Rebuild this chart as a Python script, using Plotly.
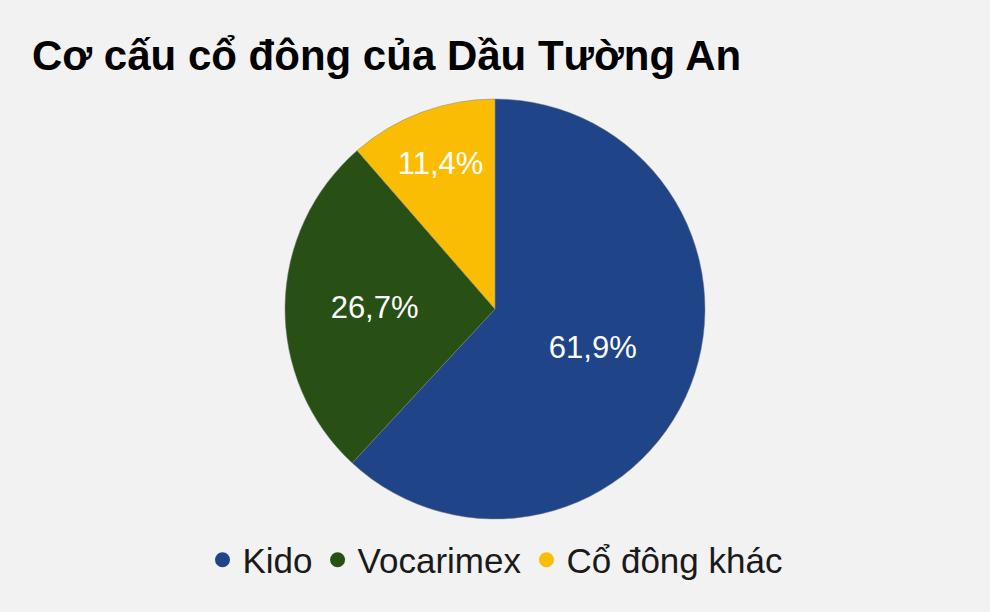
import plotly.graph_objects as go

# Shareholder structure data
labels = ["Kido", "Vocarimex", "Cổ đông khác"]
values = [61.9, 26.7, 11.4]
colors = ["#1f4488", "#284f14", "#fbbc04"]

fig = go.Figure()

fig.add_trace(go.Pie(
    labels=labels,
    values=values,
    marker=dict(colors=colors, line=dict(color="#7f7f7f", width=0.5)),
    sort=False,
    direction="clockwise",
    rotation=0,
    texttemplate="%{value:.1f}%",
    textposition="inside",
    insidetextorientation="horizontal",
    textfont=dict(color="white", size=31, family="Liberation Sans, Arial"),
    showlegend=False,
    hoverinfo="label+percent",
))

# legend entries with round markers
for name, c in zip(labels, colors):
    fig.add_trace(go.Scatter(
        x=[None], y=[None], mode="markers",
        marker=dict(color=c, size=15, symbol="circle"),
        name=name, showlegend=True,
    ))

fig.update_layout(
    width=990, height=612,
    paper_bgcolor="#f2f2f2",
    plot_bgcolor="#f2f2f2",
    separators=",.",
    margin=dict(l=0, r=0, t=99, b=93),
    title=dict(
        text="<b>Cơ cấu cổ đông của Dầu Tường An</b>",
        font=dict(family="Liberation Sans, Arial", size=42, color="black"),
        xref="container", x=32 / 990, xanchor="left",
        yref="container", y=1 - 55 / 612, yanchor="middle",
    ),
    legend=dict(
        orientation="h",
        xref="container", x=0.5, xanchor="center",
        yref="container", y=1 - 560 / 612, yanchor="middle",
        font=dict(family="Liberation Sans, Arial", size=35, color="#1a1a1a"),
        bgcolor="rgba(0,0,0,0)",
    ),
    xaxis=dict(visible=False),
    yaxis=dict(visible=False),
)

# drop the default page margin so the figure sits at the window edge
fig.write_html("out.html", config={"displayModeBar": False},
               post_script="document.body.style.margin='0';")
